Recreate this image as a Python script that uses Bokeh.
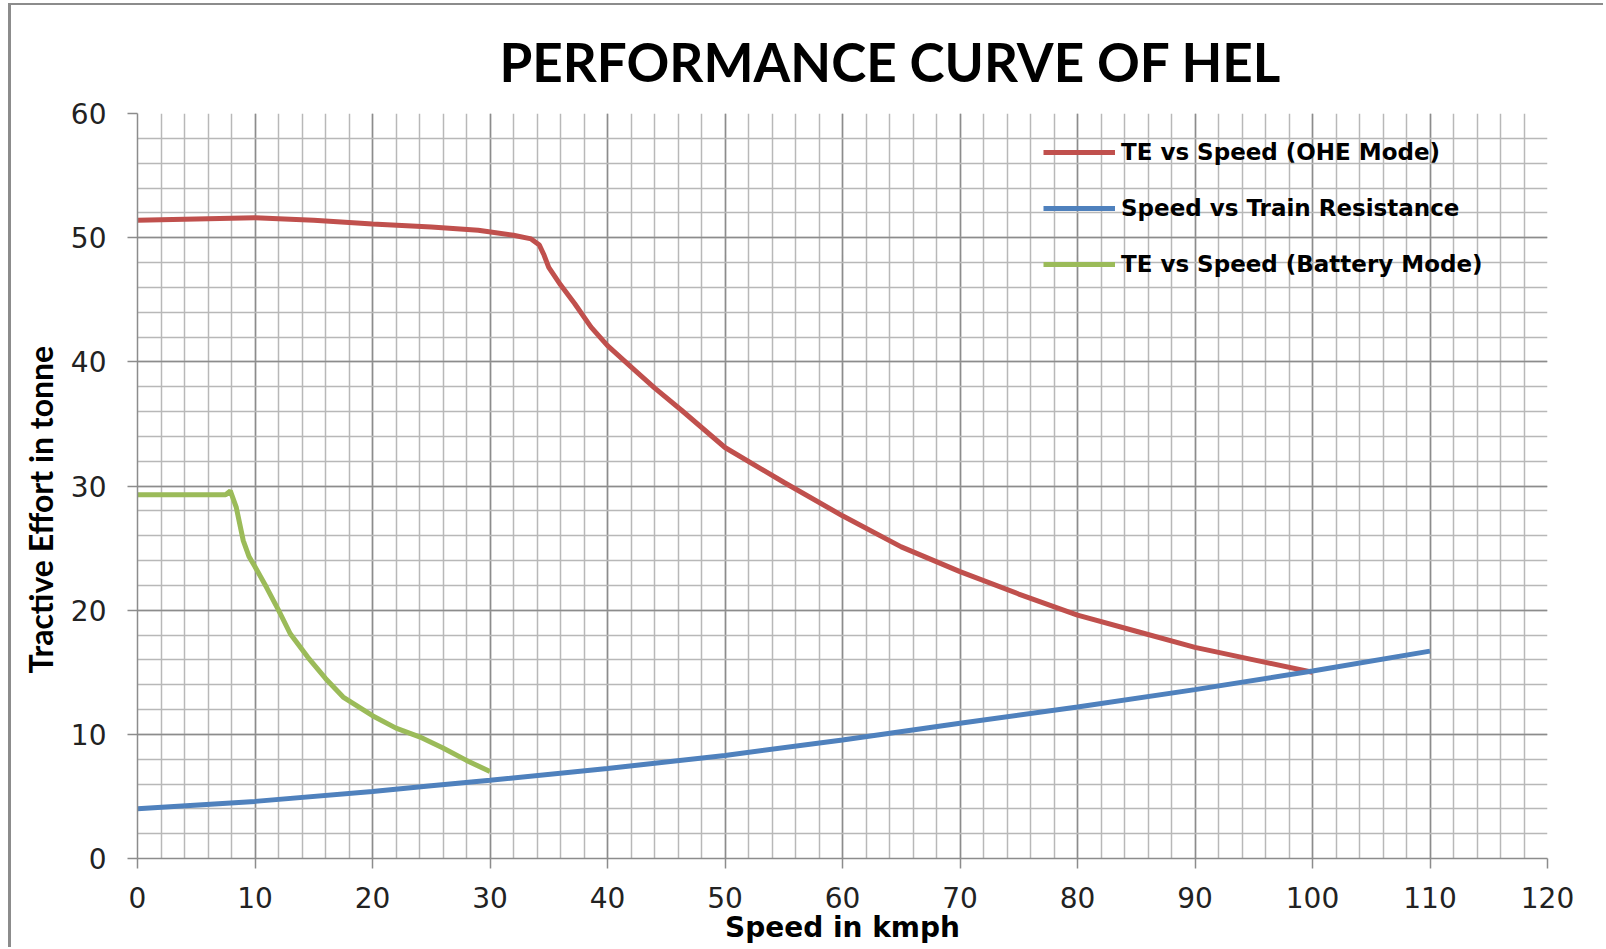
from bokeh.plotting import figure
from bokeh.models import Legend, LegendItem, Range1d, FixedTicker, Title
from bokeh.embed import file_html
from bokeh.resources import INLINE

# --- data ---
ohe_speed = [0, 5, 10, 15, 20, 25, 29, 32, 33.5, 34.2, 34.6, 35, 36, 37.2, 38.6, 40, 42, 44, 46.3,
             50, 55, 60, 65, 70, 75, 80, 85, 90, 95, 100]
ohe_te = [51.4, 51.5, 51.6, 51.4, 51.1, 50.85, 50.6, 50.2, 49.9, 49.4, 48.6, 47.6, 46.2, 44.7, 42.8,
          41.3, 39.6, 37.9, 36.1, 33.1, 30.3, 27.6, 25.1, 23.1, 21.3, 19.6, 18.3, 17.0, 16.0, 15.0]

res_speed = [0, 10, 20, 25, 30, 40, 50, 60, 70, 80, 90, 100, 110]
res_te = [4.0, 4.6, 5.4, 5.85, 6.3, 7.25, 8.3, 9.55, 10.9, 12.2, 13.6, 15.1, 16.7]

bat_speed = [0, 7.5, 7.9, 8.4, 9.0, 9.5, 10, 11, 12, 13, 14.5, 16, 17.5, 20, 22, 24, 26, 28, 30]
bat_te = [29.3, 29.3, 29.6, 28.3, 25.6, 24.3, 23.5, 21.8, 20.0, 18.1, 16.2, 14.5, 13.0, 11.5, 10.5,
          9.8, 8.9, 7.9, 7.0]

x_ticks = list(range(0, 121, 10))
y_ticks = list(range(0, 61, 10))
x_minor = list(range(0, 121, 2))
y_minor = list(range(0, 61, 2))
labels = ["TE vs Speed (OHE Mode)", "Speed vs Train Resistance", "TE vs Speed (Battery Mode)"]
colors = ["#c0504d", "#4f81bd", "#9bbb59"]
title_text = "PERFORMANCE CURVE OF HEL"
x_label = "Speed in kmph"
y_label = "Tractive Effort  in tonne"

W, H = 1595, 944
p = figure(width=W, height=H, output_backend="svg", toolbar_location=None,
           x_range=Range1d(0, 120), y_range=Range1d(0, 60),
           min_border_left=126, min_border_right=59, min_border_top=108, min_border_bottom=91)
p.margin = (5, 0, 0, 11)
p.styles = {"box-shadow": "-3px -2px 0 0 #8c8c8c"}

p.title = Title(text=title_text, align="left", text_font="Lato",
                text_font_size="53px", text_font_style="bold", text_color="#000000",
                offset=362)
p.title.standoff = 42

p.outline_line_color = None
p.background_fill_color = "white"

for ax in (p.xaxis[0], p.yaxis[0]):
    ax.axis_line_color = "#8c8c8c"
    ax.axis_line_width = 1.5
    ax.major_tick_line_color = "#8c8c8c"
    ax.major_tick_line_width = 1.5
    ax.major_tick_out = 10
    ax.major_tick_in = 0
    ax.minor_tick_line_color = None
    ax.major_label_text_font = "DejaVu Sans"
    ax.major_label_text_font_size = "28px"
    ax.major_label_text_color = "#222222"

p.xaxis.ticker = FixedTicker(ticks=x_ticks, minor_ticks=x_minor)
p.yaxis.ticker = FixedTicker(ticks=y_ticks, minor_ticks=y_minor)
p.xaxis.major_label_standoff = 18
p.yaxis.major_label_standoff = 21
p.xaxis.axis_label = x_label
p.xaxis.axis_label_text_font = "DejaVu Sans"
p.xaxis.axis_label_text_font_style = "bold"
p.xaxis.axis_label_text_font_size = "28px"
p.xaxis.axis_label_text_color = "#000000"
p.xaxis.axis_label_standoff = 0

# y-axis caption as a side title so that it can sit below the frame centre like the original
ytitle = Title(text=y_label, align="left", offset=185, text_font="Lato",
               text_font_style="bold", text_font_size="32px", text_color="#000000",
               standoff=15)
p.add_layout(ytitle, "left")

for g in (p.xgrid[0], p.ygrid[0]):
    g.grid_line_color = "#8c8c8c"
    g.grid_line_width = 1.5
    g.minor_grid_line_color = "#b8b8b8"
    g.minor_grid_line_width = 1.5

r1 = p.line(ohe_speed, ohe_te, line_color=colors[0], line_width=5)
r2 = p.line(res_speed, res_te, line_color=colors[1], line_width=5)
r3 = p.line(bat_speed, bat_te, line_color=colors[2], line_width=5)

legend = Legend(items=[LegendItem(label=labels[0], renderers=[r1]),
                       LegendItem(label=labels[1], renderers=[r2]),
                       LegendItem(label=labels[2], renderers=[r3])],
                location=(906, 580), orientation="vertical",
                glyph_width=72, glyph_height=28, label_height=28, spacing=28,
                label_standoff=6, padding=0, margin=0,
                border_line_color=None, background_fill_alpha=0,
                label_text_font="DejaVu Sans", label_text_font_style="bold",
                label_text_font_size="23px", label_text_color="#000000")
p.add_layout(legend, "center")

open("out.html", "w").write(file_html(p, INLINE))
